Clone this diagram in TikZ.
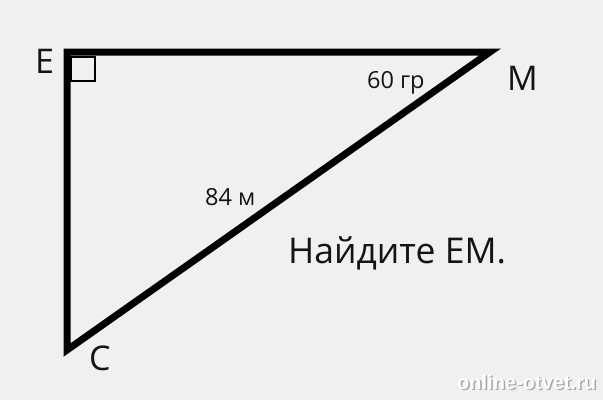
\documentclass[tikz,border=0pt]{standalone}
\usepackage{fontspec}
\setmainfont{Open Sans}
\newfontfamily\wmfont{Liberation Sans}
\definecolor{bg}{HTML}{F0F0F0}
\definecolor{ink}{HTML}{141414}
\tikzset{
  edge/.style={line width=7pt, line join=miter, line cap=butt, draw=black},
  lbl/.style={anchor=base west, inner sep=0pt, text=ink, font=\fontsize{34}{34}\selectfont},
  task/.style={anchor=base west, inner sep=0pt, text=ink, font=\fontsize{35.5}{36}\selectfont},
  small/.style={anchor=base west, inner sep=0pt, text=ink, font=\fontsize{23.5}{24}\selectfont},
  wm/.style={anchor=base west, inner sep=0pt, font=\wmfont\bfseries\fontsize{20}{20}\selectfont},
}
\begin{document}
\begin{tikzpicture}[x=1pt,y=-1pt]
  \fill[bg] (0,0) rectangle (603,400);
  \useasboundingbox (0,0) rectangle (603,400);
  \coordinate (E) at (67,52);
  \coordinate (M) at (490,52);
  \coordinate (C) at (67,350);
  \draw[edge] (E) -- (M) -- (C) -- cycle;
  \draw[line width=1.2pt] (71,57) rectangle (95,81);
  \node[lbl] (lE) at (35,73) {E};
  \node[lbl] (lM) at (507,90) {M};
  \node[lbl] (lC) at (89,370) {C};
  \node[small] (a60) at (367,88) {60 гр};
  \node[small] (s84) at (205,205) {84 м};
  \node[task] (taskn) at (288,263) {Найдите EM.};
  \node[wm, text=gray!70] (wms) at (458.5,390.5) {online-otvet.ru};
  \node[wm, text=white] (wmn) at (457,389) {online-otvet.ru};
\end{tikzpicture}
\end{document}
